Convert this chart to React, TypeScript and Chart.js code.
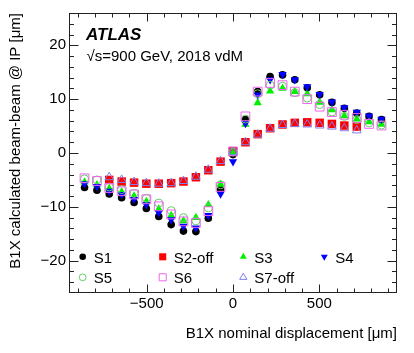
import React, { useEffect, useRef } from 'react';
import { Chart, registerables } from 'chart.js';
import { drawPoint } from 'chart.js/helpers';

Chart.register(...registerables);

// Nominal displacement of the scan points [um]
const displacementOn = [-860, -788, -717, -645, -573, -502, -430, -358, -287, -215, -143, -72, 0, 72, 143, 215, 287, 358, 430, 502, 573, 645, 717, 788, 860];
const displacementOff = [-717, -645, -573, -502, -430, -358, -287, -215, -143, -72, 0, 72, 143, 215, 287, 358, 430, 502, 573, 645, 717];

// Calculated beam-beam deflection at IP [um]
const s1 = [-6.4, -6.9, -7.6, -8.3, -9.2, -10.3, -11.8, -13.3, -14.5, -14.6, -12.1, -6.8, -0.3, 6.2, 11.4, 14.2, 14.5, 13.6, 12.1, 10.8, 9.4, 8.3, 7.4, 6.8, 6.2];
const s2off = [-5.0, -5.3, -5.5, -5.7, -5.7, -5.6, -5.3, -4.5, -3.2, -1.6, 0.3, 2.0, 3.5, 4.6, 5.3, 5.6, 5.7, 5.6, 5.4, 5.1, 4.9];
const s3 = [-5.4, -5.9, -6.6, -7.2, -8.0, -9.0, -10.4, -11.6, -12.6, -12.0, -9.6, -5.8, 0.0, 5.3, 9.3, 11.5, 12.0, 11.4, 11.0, 9.4, 8.0, 6.9, 6.3, 5.8, 5.3];
const s4 = [-5.7, -6.2, -7.1, -7.7, -8.6, -9.6, -11.1, -12.4, -13.6, -13.9, -11.6, -7.6, -1.6, 5.5, 10.8, 13.6, 14.6, 13.6, 12.3, 10.9, 9.5, 8.4, 7.6, 6.9, 6.3];
const s5 = [-4.8, -5.0, -6.3, -6.8, -7.5, -8.4, -9.3, -10.7, -12.0, -12.6, -10.2, -5.9, 0.2, 6.3, 11.0, 12.6, 12.4, 11.2, 10.2, 9.0, 7.6, 6.8, 6.2, 5.6, 5.2];
const s6 = [-4.7, -5.2, -6.5, -7.1, -7.7, -8.6, -9.9, -11.4, -12.7, -13.0, -10.8, -6.3, 0.3, 6.8, 11.4, 13.0, 12.6, 11.4, 10.0, 8.6, 7.6, 7.1, 6.5, 5.4, 5.1];
const s7off = [-4.5, -5.0, -5.4, -5.6, -5.7, -5.6, -5.2, -4.4, -3.1, -1.5, 0.2, 2.0, 3.4, 4.5, 5.2, 5.4, 5.3, 5.1, 4.9, 4.6, 4.2];

const xTicks = [-500, 0, 500];
const yTicks = [-20, -10, 0, 10, 20];

const FONT = "'Liberation Sans', Arial, Helvetica, sans-serif";

type SeriesDef = {
  label: string;
  xs: number[];
  ys: number[];
  color: string;
  style: string;
  rotation: number;
  open: boolean;
  radius: number;
  legendRadius: number;
};

const series: SeriesDef[] = [
  { label: 'S1', xs: displacementOn, ys: s1, color: '#000000', style: 'circle', rotation: 0, open: false, radius: 3.8, legendRadius: 3.3 },
  { label: 'S2-off', xs: displacementOff, ys: s2off, color: '#ff0000', style: 'rect', rotation: 0, open: false, radius: 6, legendRadius: 5 },
  { label: 'S3', xs: displacementOn, ys: s3, color: '#00f000', style: 'triangle', rotation: 0, open: false, radius: 4.8, legendRadius: 4 },
  { label: 'S4', xs: displacementOn, ys: s4, color: '#0000ff', style: 'triangle', rotation: 180, open: false, radius: 4.8, legendRadius: 4 },
  { label: 'S5', xs: displacementOn, ys: s5, color: '#66cc66', style: 'circle', rotation: 0, open: true, radius: 4, legendRadius: 3.4 },
  { label: 'S6', xs: displacementOn, ys: s6, color: '#ee66ee', style: 'rect', rotation: 0, open: true, radius: 6.2, legendRadius: 5 },
  { label: 'S7-off', xs: displacementOff, ys: s7off, color: '#8080ee', style: 'triangle', rotation: 0, open: true, radius: 5, legendRadius: 4.2 },
];

const legendCols = [82.7, 162.7, 243.3, 324.3];
const legendRowsY = [256.8, 277.3];

const fmt = (v: number) => (v < 0 ? '\u2212' + Math.abs(v) : String(v));

const framePlugin = {
  id: 'rootFrame',
  afterDraw(chart: any) {
    const { ctx, chartArea } = chart;
    const xs = chart.scales.x;
    const ys = chart.scales.y;
    const L = Math.round(chartArea.left) + 0.5;
    const R = Math.round(chartArea.right) - 0.5;
    const T = Math.round(chartArea.top) + 0.5;
    const B = Math.round(chartArea.bottom) - 0.5;
    ctx.save();
    ctx.strokeStyle = '#222';
    ctx.lineWidth = 1;
    ctx.strokeRect(L, T, R - L, B - T);
    ctx.beginPath();
    for (let v = -900; v <= 900; v += 100) {
      const px = Math.round(xs.getPixelForValue(v)) + 0.5;
      const len = v % 500 === 0 ? 8 : 4;
      ctx.moveTo(px, B);
      ctx.lineTo(px, B - len);
      ctx.moveTo(px, T);
      ctx.lineTo(px, T + len);
    }
    for (let v = -24; v <= 24; v += 2) {
      const py = Math.round(ys.getPixelForValue(v)) + 0.5;
      const len = v % 10 === 0 ? 9 : 4.5;
      ctx.moveTo(L, py);
      ctx.lineTo(L + len, py);
      ctx.moveTo(R, py);
      ctx.lineTo(R - len, py);
    }
    ctx.stroke();

    // Labels
    ctx.fillStyle = '#000';
    ctx.textBaseline = 'alphabetic';
    ctx.textAlign = 'left';
    ctx.font = `italic bold 17px ${FONT}`;
    ctx.fillText('ATLAS', 86, 40);
    ctx.font = `15px ${FONT}`;
    ctx.fillText('\u221As=900 GeV, 2018 vdM', 86.5, 60.5);

    // Legend
    series.forEach((s, i) => {
      const col = i < 4 ? i : i - 4;
      const row = i < 4 ? 0 : 1;
      const mx = legendCols[col];
      const my = legendRowsY[row];
      ctx.fillStyle = s.open ? 'rgba(0,0,0,0)' : s.color;
      ctx.strokeStyle = s.color;
      ctx.lineWidth = 1;
      drawPoint(ctx, { pointStyle: s.style, radius: s.legendRadius, rotation: s.rotation, borderWidth: s.open ? 1 : 0 }, mx, my);
      ctx.fillStyle = '#000';
      ctx.font = `15px ${FONT}`;
      ctx.fillText(s.label, mx + 11, my + 5.7);
    });
    ctx.restore();
  },
};

export default function App() {
  const canvasRef = useRef<HTMLCanvasElement | null>(null);

  useEffect(() => {
    const canvas = canvasRef.current;
    if (!canvas) return;
    const datasets = series.map((s, i) => ({
      label: s.label,
      data: s.xs.map((x, j) => ({ x, y: s.ys[j] })),
      showLine: false,
      pointStyle: s.style,
      pointRotation: s.rotation,
      pointRadius: s.radius,
      pointHoverRadius: s.radius,
      pointBackgroundColor: s.open ? 'rgba(0,0,0,0)' : s.color,
      pointBorderColor: s.color,
      pointBorderWidth: s.open ? 1 : 0,
      order: series.length - i,
    }));

    const chart = new Chart(canvas, {
      type: 'scatter',
      data: { datasets },
      plugins: [framePlugin],
      options: {
        animation: false,
        responsive: true,
        maintainAspectRatio: false,
        events: [],
        layout: { padding: { top: 13, right: 17, left: 0, bottom: 0 } },
        plugins: { legend: { display: false }, tooltip: { enabled: false } },
        scales: {
          x: {
            type: 'linear',
            min: -950,
            max: 950,
            afterBuildTicks: (sc: any) => {
              sc.ticks = xTicks.map((v) => ({ value: v }));
            },
            afterFit: (sc: any) => {
              sc.height = 60;
            },
            ticks: {
              callback: (v: any) => fmt(Number(v)),
              font: { family: FONT, size: 15 },
              color: '#000',
              padding: 2,
              maxRotation: 0,
              autoSkip: false,
            },
            grid: { display: false, drawTicks: false },
            border: { display: false },
            title: {
              display: true,
              text: 'B1X nominal displacement [\u03BCm]',
              align: 'end',
              color: '#000',
              font: { family: FONT, size: 15 },
              padding: { top: 0, bottom: 10 },
            },
          },
          y: {
            type: 'linear',
            min: -26,
            max: 26,
            afterBuildTicks: (sc: any) => {
              sc.ticks = yTicks.map((v) => ({ value: v }));
            },
            afterFit: (sc: any) => {
              sc.width = 69;
            },
            ticks: {
              callback: (v: any) => fmt(Number(v)),
              font: { family: FONT, size: 15 },
              color: '#000',
              padding: 3,
              autoSkip: false,
            },
            grid: { display: false, drawTicks: false },
            border: { display: false },
            title: {
              display: true,
              text: 'B1X calculated beam-beam @ IP [\u03BCm]',
              align: 'end',
              color: '#000',
              font: { family: FONT, size: 15 },
              padding: { top: 7, bottom: 0 },
            },
          },
        },
      },
    });
    return () => chart.destroy();
  }, []);

  return (
    <div style={{ position: 'absolute', left: 0, top: 0, width: 414, height: 353, background: '#fff' }}>
      <canvas ref={canvasRef} />
    </div>
  );
}
